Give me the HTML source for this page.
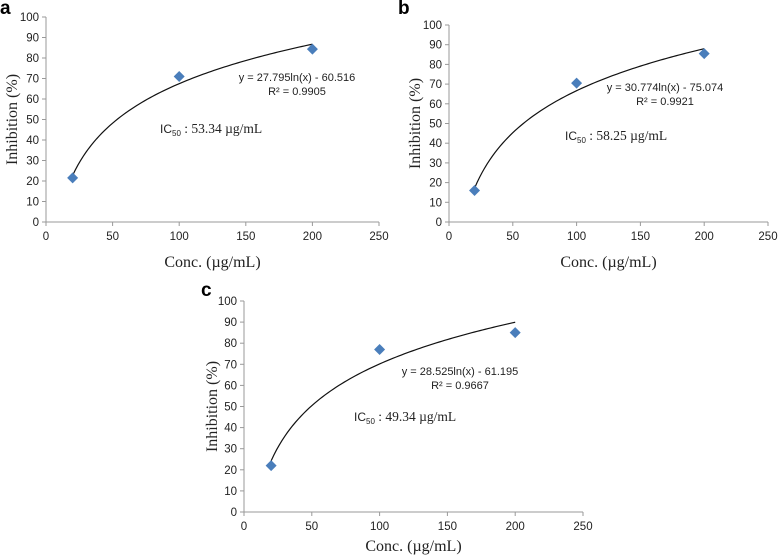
<!DOCTYPE html>
<html><head><meta charset="utf-8"><style>
body{margin:0;background:#fff}
svg{display:block}
.tk{font-family:"Liberation Sans",sans-serif;font-size:11.5px;fill:#222}
.ttl{font-family:"Liberation Serif",serif;font-size:16px;fill:#222}
.eq{font-family:"Liberation Sans",sans-serif;font-size:11px;fill:#222}
.ic{font-family:"Liberation Serif",serif;font-size:13.5px;fill:#222}
.pl{font-family:"Liberation Sans",sans-serif;font-size:19px;font-weight:bold;fill:#000}
</style></head><body>
<svg id="fig" width="778" height="559" viewBox="0 0 778 559"></svg>
<script>
const concs = [20, 100, 200];
const inhibA = [21.5, 71, 84.3];
const inhibB = [16, 70.5, 85.5];
const inhibC = [22, 77, 85];
const fitA = [27.795, -60.516];
const fitB = [30.774, -75.074];
const fitC = [28.525, -61.195];
const xTicks = [0, 50, 100, 150, 200, 250];
const yTicks = [0, 10, 20, 30, 40, 50, 60, 70, 80, 90, 100];
const eqA = ["y = 27.795ln(x) - 60.516", "R² = 0.9905", "53.34"];
const eqB = ["y = 30.774ln(x) - 75.074", "R² = 0.9921", "58.25"];
const eqC = ["y = 28.525ln(x) - 61.195", "R² = 0.9667", "49.34"];

const NS = "http://www.w3.org/2000/svg";
const svg = document.getElementById('fig');
function mk(tag, attrs, parent, txt) {
  const e = document.createElementNS(NS, tag);
  for (const k in attrs) e.setAttribute(k, attrs[k]);
  if (txt !== undefined) e.textContent = txt;
  parent.appendChild(e);
  return e;
}
function panel(id, P, vals, fit, eq) {
  const g = mk('g', {}, svg);
  
  
  const xs = v => P.x0 + (P.x1 - P.x0) * v / 250;
  const ys = v => P.y0 - (P.y0 - P.y1) * v / 100;
  const lab = mk('text', {x: P.lx, y: P.ly, class: 'pl'}, g, id);
  
  
  const ya = mk('line', {x1: P.x0, y1: P.y0, x2: P.x0, y2: P.y1, stroke: '#999', 'stroke-width': 1}, g);
  
  
  const xa = mk('line', {x1: P.x0, y1: P.y0, x2: P.x1, y2: P.y0, stroke: '#999', 'stroke-width': 1}, g);
  
  
  yTicks.forEach(t => {
    mk('line', {x1: P.x0 - 4, y1: ys(t), x2: P.x0, y2: ys(t), stroke: '#999'}, g);
    const tl = mk('text', {x: P.x0 - 7, y: ys(t) + 4, class: 'tk', 'text-anchor': 'end'}, g, t);
    
    
  });
  xTicks.forEach(t => {
    mk('line', {x1: xs(t), y1: P.y0, x2: xs(t), y2: P.y0 + 4, stroke: '#999'}, g);
    const tl = mk('text', {x: xs(t), y: P.y0 + 18, class: 'tk', 'text-anchor': 'middle'}, g, t);
    
    
  });
  const yt = mk('text', {x: 0, y: 0, class: 'ttl', 'text-anchor': 'middle', transform: `translate(${P.tx},${(P.y0 + P.y1) / 2}) rotate(-90)`}, g, 'Inhibition (%)');
  
  
  const xt = mk('text', {x: (P.x0 + P.x1) / 2, y: P.cy, class: 'ttl', 'text-anchor': 'middle'}, g, 'Conc. (µg/mL)');
  
  
  let d = '';
  for (let i = 0; i <= 90; i++) {
    const c = concs[0] + (concs[concs.length - 1] - concs[0]) * i / 90;
    const v = fit[0] * Math.log(c) + fit[1];
    d += (i ? 'L' : 'M') + xs(c).toFixed(2) + ',' + ys(v).toFixed(2);
  }
  const tr = mk('path', {d: d, fill: 'none', stroke: '#111', 'stroke-width': 1.2}, g);
  
  
  concs.forEach((c, i) => {
    const x = xs(c), y = ys(vals[i]);
    const p = mk('polygon', {points: `${x},${y - 5.5} ${x + 5.5},${y} ${x},${y + 5.5} ${x - 5.5},${y}`, fill: '#4a7ebb'}, g);
    
    
  });
  const e1 = mk('text', {x: P.ex, y: P.ey, class: 'eq', 'text-anchor': 'middle'}, g, eq[0]);
  
  
  const e2 = mk('text', {x: P.ex, y: P.ey + 14, class: 'eq', 'text-anchor': 'middle'}, g, eq[1]);
  
  
  const ic = mk('text', {x: P.ix, y: P.iy, class: 'ic'}, g);
  
  
  mk('tspan', {style: 'font-family:Liberation Sans,sans-serif;font-size:12px'}, ic, 'IC');
  mk('tspan', {dy: 3, style: 'font-family:Liberation Sans,sans-serif;font-size:8px'}, ic, '50');
  mk('tspan', {dy: -3}, ic, ' : ' + eq[2] + ' µg/mL');
}
panel('a', {x0: 46, x1: 379, y0: 222, y1: 17, lx: 0, ly: 14, tx: 17, cy: 267, ex: 297, ey: 81, ix: 160, iy: 133}, inhibA, fitA, eqA);
panel('b', {x0: 449, x1: 768, y0: 222, y1: 25, lx: 398, ly: 14, tx: 420, cy: 267, ex: 665, ey: 91, ix: 565, iy: 140}, inhibB, fitB, eqB);
panel('c', {x0: 244, x1: 583, y0: 512, y1: 301, lx: 201, ly: 296, tx: 217, cy: 551, ex: 460, ey: 375, ix: 354, iy: 421}, inhibC, fitC, eqC);
</script>
</body></html>
